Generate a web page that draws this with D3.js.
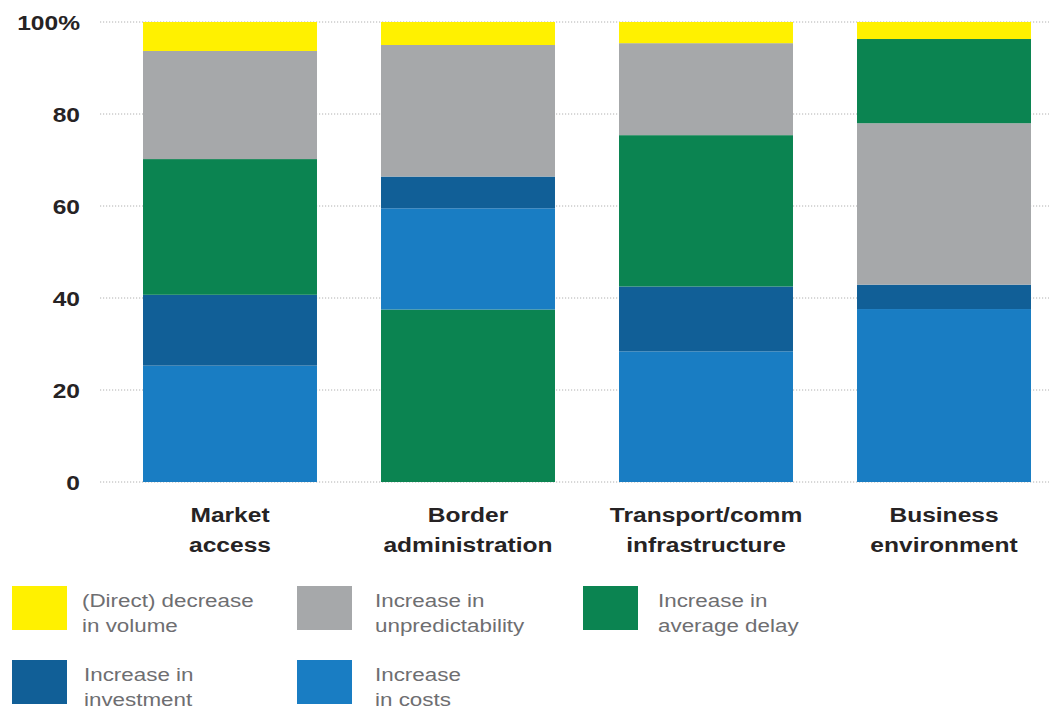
<!DOCTYPE html>
<html>
<head>
<meta charset="utf-8">
<script src="https://cdn.jsdelivr.net/npm/d3@7/dist/d3.min.js"></script>
<style>
  html, body { margin: 0; padding: 0; background: #fff; }
  svg { display: block; }
  text { font-family: "Liberation Sans", Arial, Helvetica, sans-serif; }
</style>
</head>
<body>
<svg id="chart" width="1049" height="709"></svg>
<script>
// Categories (two-line labels)
const categories = ["Market access", "Border administration", "Transport/comm infrastructure", "Business environment"];
const categoryLines = [["Market", "access"], ["Border", "administration"], ["Transport/comm", "infrastructure"], ["Business", "environment"]];

// Series values (% of responses), one per category
const volume           = [6.3, 5.0, 4.6, 3.7];
const unpredictability = [23.5, 28.6, 20.0, 35.1];
const delay            = [29.5, 37.5, 32.9, 18.3];
const investment       = [15.4, 6.9, 14.1, 5.3];
const costs            = [25.3, 22.0, 28.4, 37.6];

// Stacking order per category, bottom to top
const stackOrder = [
  ["costs", "investment", "delay", "unpredictability", "volume"],
  ["delay", "costs", "investment", "unpredictability", "volume"],
  ["costs", "investment", "delay", "unpredictability", "volume"],
  ["costs", "investment", "unpredictability", "delay", "volume"]
];

const yTicks = [0, 20, 40, 60, 80, 100];
const yTickLabels = ["0", "20", "40", "60", "80", "100%"];

const series = {
  volume:           { values: volume,           color: "#FFF100", label: ["(Direct) decrease", "in volume"] },
  unpredictability: { values: unpredictability, color: "#A6A8AA", label: ["Increase in", "unpredictability"] },
  delay:            { values: delay,            color: "#0B8451", label: ["Increase in", "average delay"] },
  investment:       { values: investment,       color: "#115F97", label: ["Increase in", "investment"] },
  costs:            { values: costs,            color: "#197DC3", label: ["Increase", "in costs"] }
};
const legendOrder = ["volume", "unpredictability", "delay", "investment", "costs"];

const svg = d3.select("#chart");

const x = d3.scaleBand()
  .domain(categories)
  .range([111, 1063])
  .paddingInner(0.269)
  .paddingOuter(0.1345);

const y = d3.scaleLinear().domain([0, 100]).range([482, 22]);

// Dotted gridlines
svg.append("g")
  .selectAll("line")
  .data(yTicks)
  .join("line")
  .attr("x1", 100).attr("x2", 1049)
  .attr("y1", d => y(d)).attr("y2", d => y(d))
  .attr("stroke", "#b0b0b0")
  .attr("stroke-width", 1)
  .attr("stroke-dasharray", "1.2,1.8");

// Y tick labels (horizontally stretched face)
const sx = 1.17;
svg.append("g")
  .selectAll("text")
  .data(yTicks)
  .join("text")
  .attr("transform", d => `translate(80,${y(d)}) scale(${sx},1)`)
  .attr("text-anchor", "end")
  .attr("dy", "0.36em")
  .attr("font-size", 21)
  .attr("font-weight", "bold")
  .attr("fill", "#262324")
  .text((d, i) => yTickLabels[i]);

// Stacked bars
categories.forEach((cat, ci) => {
  const order = stackOrder[ci];
  const vals = order.map(k => series[k].values[ci]);
  const tops = d3.cumsum(vals);
  const segs = order.map((k, i) => ({ key: k, y0: tops[i] - vals[i], y1: tops[i] }));
  svg.append("g")
    .selectAll("rect")
    .data(segs)
    .join("rect")
    .attr("x", x(cat))
    .attr("width", x.bandwidth())
    .attr("y", d => y(d.y1))
    .attr("height", d => y(d.y0) - y(d.y1))
    .attr("fill", d => series[d.key].color);
});

// Category labels
const catG = svg.append("g");
categories.forEach((cat, ci) => {
  const cx = x(cat) + x.bandwidth() / 2;
  categoryLines[ci].forEach((line, li) => {
    catG.append("text")
      .attr("transform", `translate(${cx},${522 + li * 30}) scale(${sx},1)`)
      .attr("text-anchor", "middle")
      .attr("font-size", 21)
      .attr("font-weight", "bold")
      .attr("fill", "#262324")
      .text(line);
  });
});

// Legend: swatch position and text start per entry
const legendPos = [
  [12, 586, 82], [297, 586, 375], [583, 586, 658],
  [12, 660, 84], [297, 660, 375]
];
const lg = svg.append("g");
legendOrder.forEach((k, i) => {
  const [lx, ly, tx] = legendPos[i];
  lg.append("rect")
    .attr("x", lx).attr("y", ly)
    .attr("width", 55).attr("height", 44)
    .attr("fill", series[k].color);
  series[k].label.forEach((line, li) => {
    lg.append("text")
      .attr("transform", `translate(${tx},${ly + 21 + li * 25}) scale(1.28,1)`)
      .attr("font-size", 17.5)
      .attr("fill", "#6e6e71")
      .text(line);
  });
});
</script>
</body>
</html>
